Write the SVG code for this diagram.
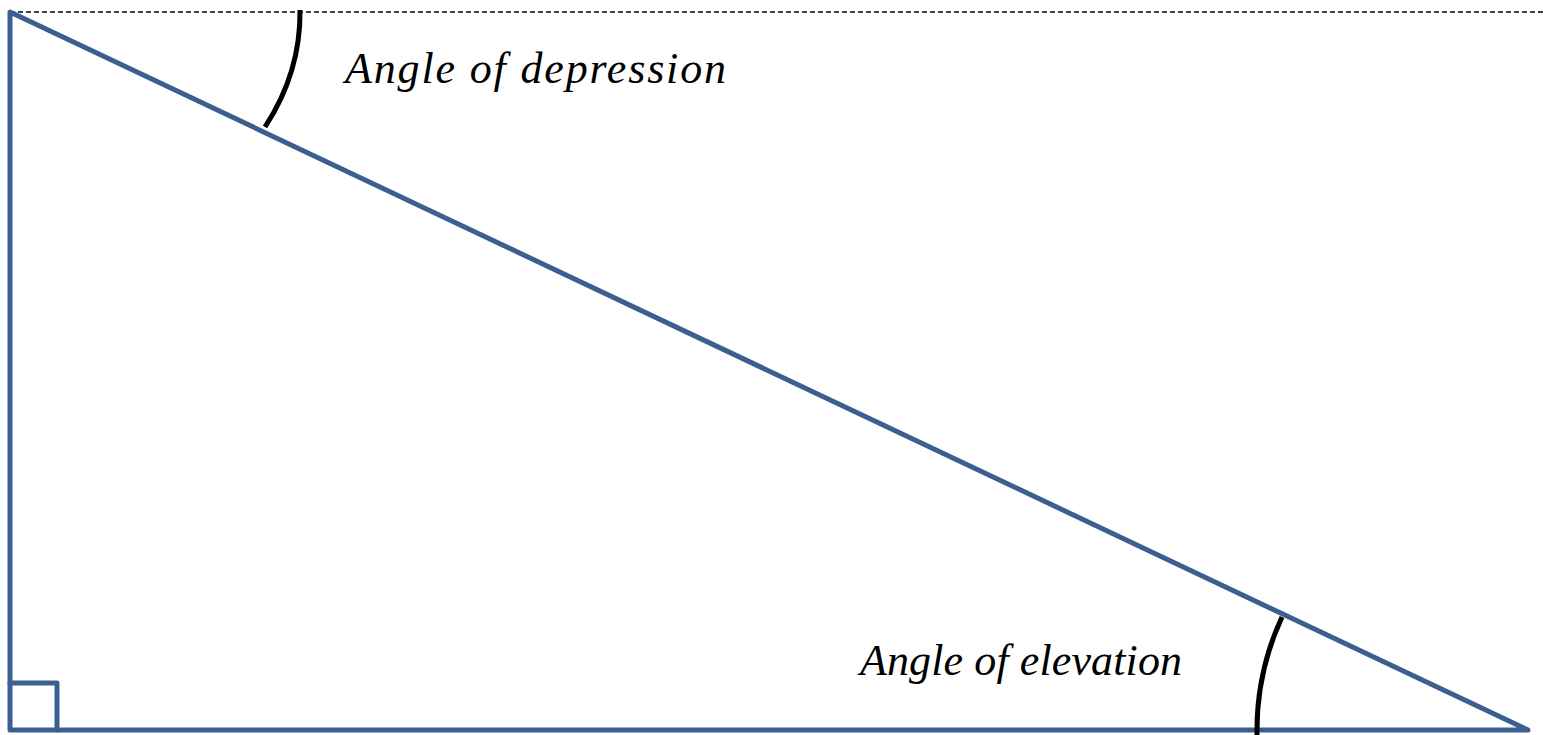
<svg xmlns="http://www.w3.org/2000/svg" width="1543" height="735" viewBox="0 0 1543 735">
<style>
.side{fill:none;stroke:#3C5F8F;stroke-width:5;stroke-linejoin:round;stroke-linecap:round}
.arc{fill:none;stroke:#000;stroke-width:5}
.lbl{font-family:"Liberation Serif","Times New Roman",serif;font-style:italic;font-size:44px;fill:#000}
</style>
<rect width="1543" height="735" fill="#fff"/>
<g id="horizon">
<line x1="10" y1="12" x2="1543" y2="12" stroke="#000" stroke-width="1.6" stroke-dasharray="5,3"/>
</g>
<g id="triangle">
<path class="side" d="M10 12 L10 730 L1528 730 Z"/>
<path class="side" d="M10 683 L57 683 L57 730"/>
</g>
<g id="arcs">
<path class="arc" d="M300 10 A290 240 0 0 1 265 127"/>
<path class="arc" d="M1282 617 A271 271 0 0 0 1257 735"/>
</g>
<g id="labels">
<text class="lbl" x="345" y="83" textLength="381" lengthAdjust="spacing">Angle of depression</text>
<text class="lbl" x="860" y="675" textLength="322" lengthAdjust="spacing">Angle of elevation</text>
</g>
</svg>
